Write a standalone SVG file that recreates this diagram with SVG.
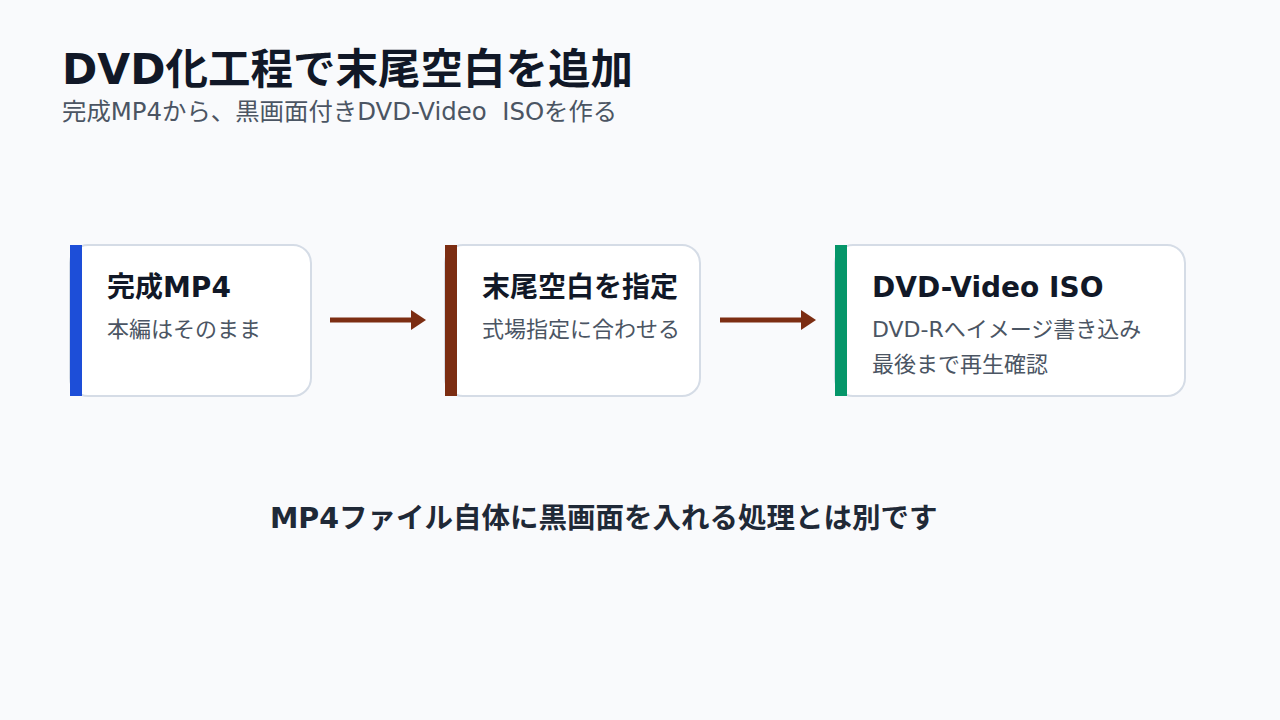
<svg xmlns="http://www.w3.org/2000/svg" width="1280" height="720" viewBox="0 0 1280 720">
<style>
.t{font-family:"DejaVu Sans","Noto Sans CJK JP",sans-serif;}
.title{font-size:42.5px;font-weight:700;fill:#111827;}
.sub{font-size:24.4px;fill:#4b5563;white-space:pre;}
.card{fill:#ffffff;stroke:#d5dce6;stroke-width:2;}
.ct{font-size:28px;font-weight:700;fill:#111827;}
.cs{font-size:22px;fill:#4b5563;}
.note{font-size:28.5px;font-weight:700;fill:#1f2937;}
.conn{stroke:#7c2d12;stroke-width:5;fill:none;}
</style>
<defs>
<marker id="ah" markerWidth="4" markerHeight="4" refX="1" refY="2" orient="auto" markerUnits="strokeWidth">
<path d="M0,0 L3,2 L0,4 Z" fill="#7c2d12"/>
</marker>
</defs>
<rect width="1280" height="720" fill="#f9fafc"/>
<text class="t title" x="62" y="84">DVD化工程で末尾空白を追加</text>
<text class="t sub" x="62" y="120" xml:space="preserve">完成MP4から、黒画面付きDVD-Video  ISOを作る</text>
<g id="node1">
<rect class="card" x="70" y="245" width="241" height="151" rx="18"/>
<rect x="70" y="245" width="12" height="151" fill="#1d4ed8"/>
<text class="t ct" x="107" y="297">完成MP4</text>
<text class="t cs" x="107" y="337">本編はそのまま</text>
</g>
<g id="node2">
<rect class="card" x="445" y="245" width="255" height="151" rx="18"/>
<rect x="445" y="245" width="12" height="151" fill="#7c2d12"/>
<text class="t ct" x="482" y="297">末尾空白を指定</text>
<text class="t cs" x="482" y="337">式場指定に合わせる</text>
</g>
<g id="node3">
<rect class="card" x="835" y="245" width="350" height="151" rx="18"/>
<rect x="835" y="245" width="12" height="151" fill="#059669"/>
<text class="t ct" x="872" y="297">DVD-Video ISO</text>
<text class="t cs" x="872" y="337">DVD-Rへイメージ書き込み</text>
<text class="t cs" x="872" y="372">最後まで再生確認</text>
</g>
<g id="connectors">
<line class="conn" x1="330" y1="320" x2="416" y2="320" marker-end="url(#ah)"/>
<line class="conn" x1="720" y1="320" x2="806" y2="320" marker-end="url(#ah)"/>
</g>
<text class="t note" x="270" y="528">MP4ファイル自体に黒画面を入れる処理とは別です</text>
</svg>
